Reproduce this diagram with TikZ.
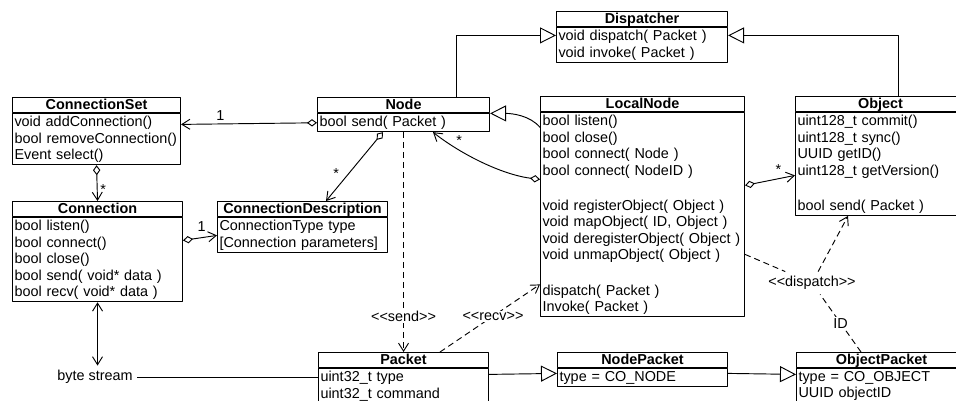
\documentclass[tikz,border=0pt]{standalone}
\usepackage{fontspec}
\setmainfont{Liberation Sans}
\usetikzlibrary{arrows.meta,calc}

\newcommand{\umlsize}{\fontsize{10.8}{12.4}\selectfont}
\newcommand{\stereo}[1]{<\kern0pt<#1>\kern0pt>}
% class box: name, north west corner, text width, title, members
\newcommand{\umlclass}[5]{%
  \node[classhead,minimum width=#3+3pt] (#1) at (#2) {#4};
  \node[classbody,text width=#3] (#1-b) at (#1.south west) {#5};}

\begin{document}
\begin{tikzpicture}[x=0.75pt,y=-0.75pt,line join=round,font=\umlsize,
  classhead/.style={draw,line width=0.8pt,anchor=north west,font=\umlsize\bfseries,
    minimum height=11.5pt,inner ysep=0pt,text height=8pt,text depth=2.2pt},
  classbody/.style={draw,line width=0.8pt,anchor=north west,align=left,
    inner xsep=1.5pt,inner ysep=1.6pt},
  inherit/.style={line width=0.7pt,-{Triangle[open,length=12pt,width=12pt]}},
  aggr/.style={line width=0.7pt,
    {Diamond[open,length=7.5pt,width=5.5pt]}-{Straight Barb[length=6pt,width=7.5pt]}},
  dashes/.style={line width=0.7pt,dash pattern=on 4.5pt off 3pt},
  depend/.style={dashes,-{Straight Barb[length=6pt,width=7.5pt]}},
  stream/.style={line width=0.7pt,{Straight Barb[length=6pt,width=7.5pt]}-{Straight Barb[length=6pt,width=7.5pt]}},
  stereolabel/.style={fill=white,inner sep=1pt},
  mult/.style={inner sep=1pt}]
  \useasboundingbox (0,0) rectangle (956,400);
  \clip (0,0) rectangle (956,400);

  % Classes.
  \umlclass{Dispatcher}{556,11}{125.25pt}{Dispatcher}
    {void dispatch( Packet )\\void invoke( Packet )}
  \umlclass{Node}{317,97}{126pt}{Node}{bool send( Packet )}
  \umlclass{LocalNode}{540,96}{150pt}{LocalNode}
    {bool listen()\\bool close()\\bool connect( Node )\\bool connect( NodeID )\\[14pt]
     void registerObject( Object )\\void mapObject( ID, Object )\\
     void deregisterObject( Object )\\void unmapObject( Object )\\[14pt]
     dispatch( Packet )\\Invoke( Packet )}
  \umlclass{Object}{795,96}{124.5pt}{Object}
    {uint128\_t commit()\\uint128\_t sync()\\UUID getID()\\uint128\_t getVersion()\\[14pt]
     bool send( Packet )}
  \umlclass{ConnectionSet}{12,97}{123pt}{ConnectionSet}
    {void addConnection()\\bool removeConnection()\\Event select()}
  \umlclass{Connection}{12,201}{124.5pt}{Connection}
    {bool listen()\\bool connect()\\bool close()\\bool send( void* data )\\bool recv( void* data )}
  \umlclass{ConnectionDescription}{217,201}{124.5pt}{ConnectionDescription}
    {ConnectionType type\\ {[Connection parameters]}}
  \umlclass{Packet}{318,352}{124.5pt}{Packet}{uint32\_t type\\uint32\_t command}
  \umlclass{NodePacket}{557,352}{124.5pt}{NodePacket}{type = CO\_NODE}
  \umlclass{ObjectPacket}{796,352}{124.5pt}{ObjectPacket}{type = CO\_OBJECT\\UUID objectID}

  % Generalisations.
  \draw[inherit] ($(Node.north west)+(139,0)$) |- ($(Dispatcher-b.north west)+(0,8)$);
  \draw[inherit] ($(Object.north west)+(103,0)$) |- ($(Dispatcher-b.north east)+(0,8)$);
  \draw[inherit] ($(LocalNode-b.north west)+(0,15)$) .. controls +(-10,-12) and +(22,0) .. (Node.south east);
  \draw[inherit] ($(Packet-b.north east)+(0,6)$) -- ($(NodePacket-b.north west)+(0,5)$);
  \draw[inherit] ($(NodePacket-b.north east)+(0,5)$) -- ($(ObjectPacket-b.north west)+(0,6)$);

  % Aggregations.
  \draw[aggr] (Node-b.west) -- node[pos=0.71,above=1pt,mult] {1} ($(ConnectionSet-b.north east)+(0,11)$);
  \draw[aggr] (ConnectionSet-b.south) -- node[pos=0.68,right=1pt,mult] {*} (Connection.north);
  \draw[aggr] ($(Connection-b.north east)+(0,23)$) -- node[pos=0.55,above=3pt,mult] {1}
    ($(ConnectionDescription-b.north west)+(0,18)$);
  \draw[aggr] ($(Node-b.south west)+(66,0)$) -- node[pos=0.6,left=6pt,mult] {*}
    ($(ConnectionDescription.north west)+(109,0)$);
  \draw[aggr] ($(LocalNode-b.north west)+(0,67)$) .. controls +(-40,-5) and +(25,20) ..
    node[pos=0.75,above right=0pt,mult] {*} ($(Node-b.south west)+(116,0)$);
  \draw[aggr] ($(LocalNode-b.north east)+(0,73)$) -- node[pos=0.67,above=2pt,mult] {*}
    ($(Object-b.north west)+(0,63)$);

  % Dependencies.
  \draw[depend] (Node-b.south) -- node[pos=0.84,stereolabel] {\stereo{send}} (Packet.north);
  \draw[depend] ($(Packet.north west)+(122,0)$) -- node[pos=0.53,stereolabel] {\stereo{recv}}
    ($(LocalNode-b.north west)+(0,172)$);
  \node (dsp) at (812,283) {\stereo{dispatch}};
  \draw[dashes] ($(LocalNode-b.north east)+(0,142)$) -- (dsp);
  \draw[depend] (dsp) -- ($(Object-b.south west)+(53,0)$);
  \draw[dashes] ($(ObjectPacket.north west)+(65,0)$) -- node[pos=0.5,stereolabel] {ID} (dsp);

  % Byte stream.
  \node (bytes) at (95,377) {byte stream};
  \draw[stream] (Connection-b.south) -- (Connection-b.south |- bytes.north);
  \draw[line width=0.7pt] (bytes.east) -- (bytes.east -| Packet-b.west);
\end{tikzpicture}
\end{document}
